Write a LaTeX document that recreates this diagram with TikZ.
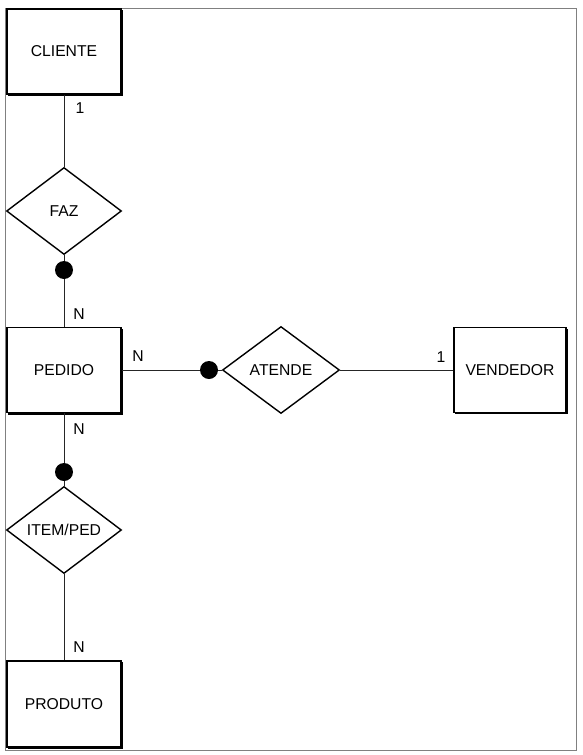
\documentclass[tikz,border=0pt]{standalone}
\usepackage{fontspec}
\setmainfont{Liberation Sans}
\usetikzlibrary{shapes.geometric}
\begin{document}
\begin{tikzpicture}[x=1pt,y=-1pt,
  font=\fontsize{15.7}{18}\selectfont,
  entity/.style={draw=black, line width=1.5pt, fill=white, rectangle,
    inner sep=0pt, minimum width=114pt, minimum height=85pt},
  relation/.style={draw=black, line width=1.4pt, fill=white, diamond,
    inner sep=0pt, minimum width=115pt, minimum height=87pt},
  joint/.style={circle, fill=black, inner sep=0pt, minimum size=18pt},
  link/.style={draw=black!85, line width=0.8pt},
  card/.style={inner sep=0pt},
  shade/.style={fill=black}]
  % page frame
  \useasboundingbox (0,0) rectangle (582,755);
  \draw[gray, line width=0.9pt] (5,8) rectangle (576,750);

  % drop shadows of the entities
  \fill[shade] (8,10) rectangle (123,96);
  \fill[shade] (8,329) rectangle (123,414.5);
  \fill[shade] (455,328.5) rectangle (568,414);
  \fill[shade] (8,662) rectangle (123,749);

  % entities
  \node[entity] (cliente)  at (64,51.5) {CLIENTE};
  \node[entity] (pedido)   at (64,370)  {PEDIDO};
  \node[entity, minimum width=112pt] (vendedor) at (510,370) {VENDEDOR};
  \node[entity, minimum height=86pt] (produto)  at (64,704)  {PRODUTO};

  % relationships
  \node[relation] (faz)     at (64,211)  {FAZ};
  \node[relation, minimum width=117pt] (atende)  at (281,370) {ATENDE};
  \node[relation] (itemped) at (64,530)  {ITEM/PED};

  % junction dots
  \node[joint] (dfaz)    at (64,270)  {};
  \node[joint] (datende) at (209,370) {};
  \node[joint] (ditem)   at (64,472)  {};

  % connectors
  \draw[link] (cliente.south) -- (faz.north);
  \draw[link] (faz.south) -- (dfaz.north);
  \draw[link] (dfaz.south) -- (pedido.north);
  \draw[link] (pedido.east) -- (datende.west);
  \draw[link] (datende.east) -- (atende.west);
  \draw[link] (atende.east) -- (vendedor.west);
  \draw[link] (pedido.south) -- (ditem.north);
  \draw[link] (ditem.south) -- (itemped.north);
  \draw[link] (itemped.south) -- (produto.north);

  % cardinalities
  \node[card] (c1) at (80,108) {1};
  \node[card] (c2) at (79,314) {N};
  \node[card] (c3) at (138,356) {N};
  \node[card] (c4) at (441,357) {1};
  \node[card] (c5) at (79,429) {N};
  \node[card] (c6) at (79,647) {N};
\end{tikzpicture}
\end{document}
